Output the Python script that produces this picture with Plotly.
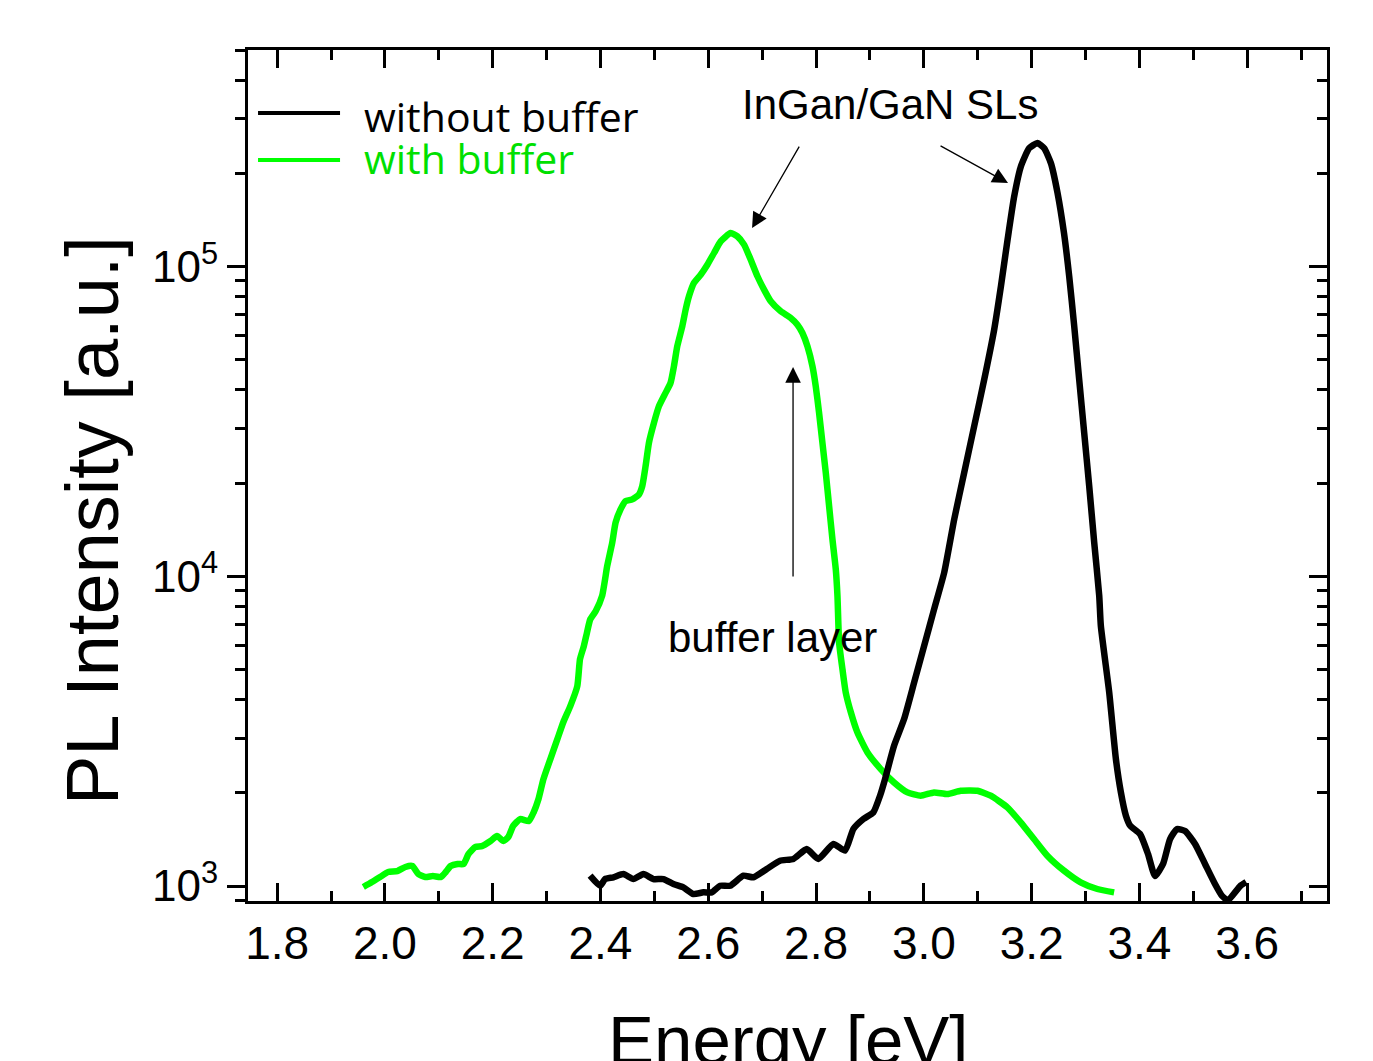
import plotly.graph_objects as go

# ---------------- data ----------------
E_with = [1.960, 1.976, 1.991, 2.006, 2.023, 2.038, 2.051, 2.062, 2.075, 2.089, 2.104, 2.113,
          2.122, 2.135, 2.146, 2.155, 2.168, 2.180, 2.196, 2.208, 2.220, 2.229, 2.238, 2.251,
          2.267, 2.276, 2.285, 2.294, 2.307, 2.320, 2.331, 2.344, 2.357, 2.362, 2.369, 2.375,
          2.381, 2.391, 2.403, 2.4125, 2.4218, 2.428, 2.4372, 2.4465, 2.459, 2.4714, 2.4775,
          2.4837, 2.4899, 2.4992, 2.5085, 2.5208, 2.530, 2.5363, 2.5425, 2.5518, 2.558, 2.5642,
          2.5734, 2.5859, 2.5983, 2.6107, 2.623, 2.6416, 2.654, 2.6664, 2.6788, 2.6912, 2.7035,
          2.7159, 2.7345, 2.753, 2.7654, 2.7747, 2.784, 2.7933, 2.7994, 2.8056, 2.8118, 2.818,
          2.8242, 2.8304, 2.8366, 2.8397, 2.8428, 2.849, 2.855, 2.8645, 2.8768, 2.8954, 2.920,
          2.9447, 2.9695, 2.9941, 3.0189, 3.0436, 3.0683, 3.0993, 3.124, 3.1549, 3.1796, 3.2043,
          3.2291, 3.260, 3.2909, 3.3219, 3.353]
I_with = [993, 1030, 1069, 1110, 1117, 1152, 1160, 1094, 1069, 1077, 1069, 1110,
          1160, 1178, 1178, 1268, 1337, 1345, 1397, 1450, 1397, 1440, 1563, 1645,
          1620, 1730, 1910, 2210, 2570, 2980, 3380, 3810, 4420, 5400, 5940, 6590,
          7260, 7710, 8650, 10800, 12850, 14900, 16450, 17500, 17720, 18390, 19560,
          22700, 27000, 31300, 35440, 39140, 42150, 47700, 55360, 64200, 72650, 80220,
          88600, 94200, 101500, 110700, 120700, 128400, 125300, 117800, 105300, 93100, 84300,
          77300, 71740, 68290, 64960, 61080, 55360, 47700, 41130, 33730, 27000, 21610,
          16860, 13160, 10530, 8650, 6107, 5010, 4222, 3640, 3130, 2700, 2386,
          2160, 2006, 1957, 2006, 1982, 2031, 2031, 1957, 1795, 1606, 1419,
          1253, 1121, 1028, 978, 954]

E_without = [2.3807, 2.3993, 2.4085, 2.424, 2.4425, 2.4611, 2.4796, 2.4982, 2.5167, 2.5353,
             2.5538, 2.5724, 2.591, 2.6064, 2.622, 2.6405, 2.6652, 2.6838, 2.7085, 2.7332,
             2.7579, 2.7826, 2.8043, 2.8321, 2.8538, 2.8692, 2.8878, 2.9063, 2.9187, 2.928,
             2.9447, 2.9633, 2.982, 3.0005, 3.019, 3.0377, 3.0563, 3.0748, 3.0934, 3.112,
             3.1305, 3.143, 3.1553, 3.1676, 3.180, 3.1954, 3.2109, 3.2233, 3.2357, 3.2481,
             3.260, 3.2697, 3.279, 3.2882, 3.2975, 3.3068, 3.3161, 3.3254, 3.3284, 3.3439,
             3.3563, 3.3656, 3.3749, 3.3828, 3.4011, 3.4159, 3.4289, 3.4438, 3.4568, 3.4698,
             3.4846, 3.5032, 3.5217, 3.5402, 3.5532, 3.5643, 3.587, 3.598]
I_without = [1080, 1002, 1053, 1067, 1093, 1053, 1093, 1053, 1053, 1015,
             990, 942, 954, 954, 1002, 1002, 1080, 1067, 1135, 1207,
             1223, 1316, 1223, 1367, 1301, 1528, 1646, 1729, 1957, 2215,
             2837, 3459, 4543, 5963, 7830, 10280, 15280, 21610, 30550, 43200,
             62640, 86420, 122200, 168600, 210700, 241300, 250600, 241300, 216000, 172800,
             128400, 93100, 64200, 43200, 29070, 19560, 12850, 8650, 6918, 4220,
             2571, 2006, 1687, 1566, 1472, 1269, 1077, 1178, 1418, 1528,
             1505, 1367, 1178, 1015, 929, 900, 1000, 1030]

x_ticks = [1.8, 2.0, 2.2, 2.4, 2.6, 2.8, 3.0, 3.2, 3.4, 3.6]
x_ticktext = ["1.8", "2.0", "2.2", "2.4", "2.6", "2.8", "3.0", "3.2", "3.4", "3.6"]
x_minor = [1.9, 2.1, 2.3, 2.5, 2.7, 2.9, 3.1, 3.3, 3.5, 3.7]
y_ticks = [1e3, 1e4, 1e5]
y_ticktext = ["10<sup>3</sup>", "10<sup>4</sup>", "10<sup>5</sup>"]
y_minor = [m * 10 ** k for k in (2, 3, 4, 5) for m in range(2, 10)]

series_names = ["without buffer", "with buffer"]

GREEN = "#00ff00"
FONT = "Liberation Sans, Arial, sans-serif"

fig = go.Figure()
fig.add_trace(go.Scatter(x=E_with, y=I_with, mode="lines", name=series_names[1],
                         line=dict(color=GREEN, width=6.5, shape="spline", smoothing=0.5),
                         showlegend=False, hoverinfo="skip"))
fig.add_trace(go.Scatter(x=E_without, y=I_without, mode="lines", name=series_names[0],
                         line=dict(color="black", width=6.5, shape="spline", smoothing=0.5),
                         showlegend=False, hoverinfo="skip"))
# invisible helper trace so the right-hand axis (inside ticks) is drawn
fig.add_trace(go.Scatter(x=E_without, y=I_without, mode="lines", yaxis="y2",
                         line=dict(color="black", width=0), opacity=0,
                         showlegend=False, hoverinfo="skip"))

xr = [1.746, 3.748]
yr = [2.9516, 5.6997]

fig.update_layout(
    width=1365, height=1053,
    margin=dict(l=240, r=46, t=42, b=160, pad=0),
    paper_bgcolor="white", plot_bgcolor="white",
    showlegend=False,
    font=dict(family=FONT, color="black"),
    xaxis=dict(range=xr, tickmode="array", tickvals=x_ticks, ticktext=x_ticktext,
               ticks="inside", ticklen=18, tickwidth=3, tickcolor="black",
               showline=True, linewidth=3, linecolor="black", mirror="ticks",
               showgrid=False, zeroline=False,
               tickfont=dict(size=46, family=FONT, color="black"),
               minor=dict(tickmode="array", tickvals=x_minor, ticks="inside",
                          ticklen=10, tickwidth=3, tickcolor="black", showgrid=False)),
    yaxis=dict(type="log", range=yr, tickmode="array", tickvals=y_ticks, ticktext=y_ticktext,
               ticks="outside", ticklen=18, tickwidth=3, tickcolor="black",
               showline=True, linewidth=3, linecolor="black", mirror=True,
               showgrid=False, zeroline=False,
               tickfont=dict(size=44, family=FONT, color="black"),
               minor=dict(tickmode="array", tickvals=y_minor, ticks="outside",
                          ticklen=10, tickwidth=3, tickcolor="black", showgrid=False)),
    yaxis2=dict(type="log", range=yr, overlaying="y", side="right",
                tickmode="array", tickvals=y_ticks, showticklabels=False,
                ticks="inside", ticklen=18, tickwidth=3, tickcolor="black",
                showline=False, showgrid=False, zeroline=False,
                minor=dict(tickmode="array", tickvals=y_minor, ticks="inside",
                           ticklen=10, tickwidth=3, tickcolor="black", showgrid=False)),
)

# legend drawn by hand (long line samples, coloured text)
leg_font = "Open Sans, Noto Sans, sans-serif"
fig.add_shape(type="line", xref="paper", yref="paper", x0=0.0093, x1=0.0853, y0=0.926, y1=0.926,
              line=dict(color="black", width=4))
fig.add_shape(type="line", xref="paper", yref="paper", x0=0.0093, x1=0.0853, y0=0.8707, y1=0.8707,
              line=dict(color=GREEN, width=4))
fig.add_annotation(xref="paper", yref="paper", x=0.1056, y=0.9224, xanchor="left", yanchor="middle",
                   text=series_names[0], showarrow=False,
                   font=dict(size=41, family=leg_font, color="black"))
fig.add_annotation(xref="paper", yref="paper", x=0.1056, y=0.8731, xanchor="left", yanchor="middle",
                   text=series_names[1], showarrow=False,
                   font=dict(size=41, family=leg_font, color="#00e000"))

# text labels and arrows
fig.add_annotation(x=2.9373, y=5.525, text="InGan/GaN SLs", showarrow=False,
                   font=dict(size=42, family=FONT, color="black"))
fig.add_annotation(x=2.7184, y=3.804, text="buffer layer", showarrow=False,
                   font=dict(size=42, family=FONT, color="black"))
for (hx, hy, tx, ty) in [(2.6813, 5.1246, 2.7703, 5.3926),
                         (3.1562, 5.270, 3.0282, 5.3926),
                         (2.7573, 4.6758, 2.7573, 3.9945)]:
    fig.add_annotation(x=hx, y=hy, ax=tx, ay=ty, axref="x", ayref="y", xref="x", yref="y",
                       text="", showarrow=True, arrowhead=2, arrowsize=2.4, arrowwidth=1.3,
                       arrowcolor="black", standoff=0, startstandoff=0)

# axis titles
fig.add_annotation(xref="paper", yref="paper", x=-0.1445, y=0.4465, text="PL Intensity [a.u.]",
                   textangle=-90, showarrow=False, xanchor="center", yanchor="middle",
                   font=dict(size=74, family=FONT, color="black"))
fig.add_annotation(xref="paper", yref="paper", x=0.5005, y=-0.1635, text="Energy [eV]",
                   showarrow=False, xanchor="center", yanchor="middle",
                   font=dict(size=69, family=FONT, color="black"))

fig.write_html("out.html")
